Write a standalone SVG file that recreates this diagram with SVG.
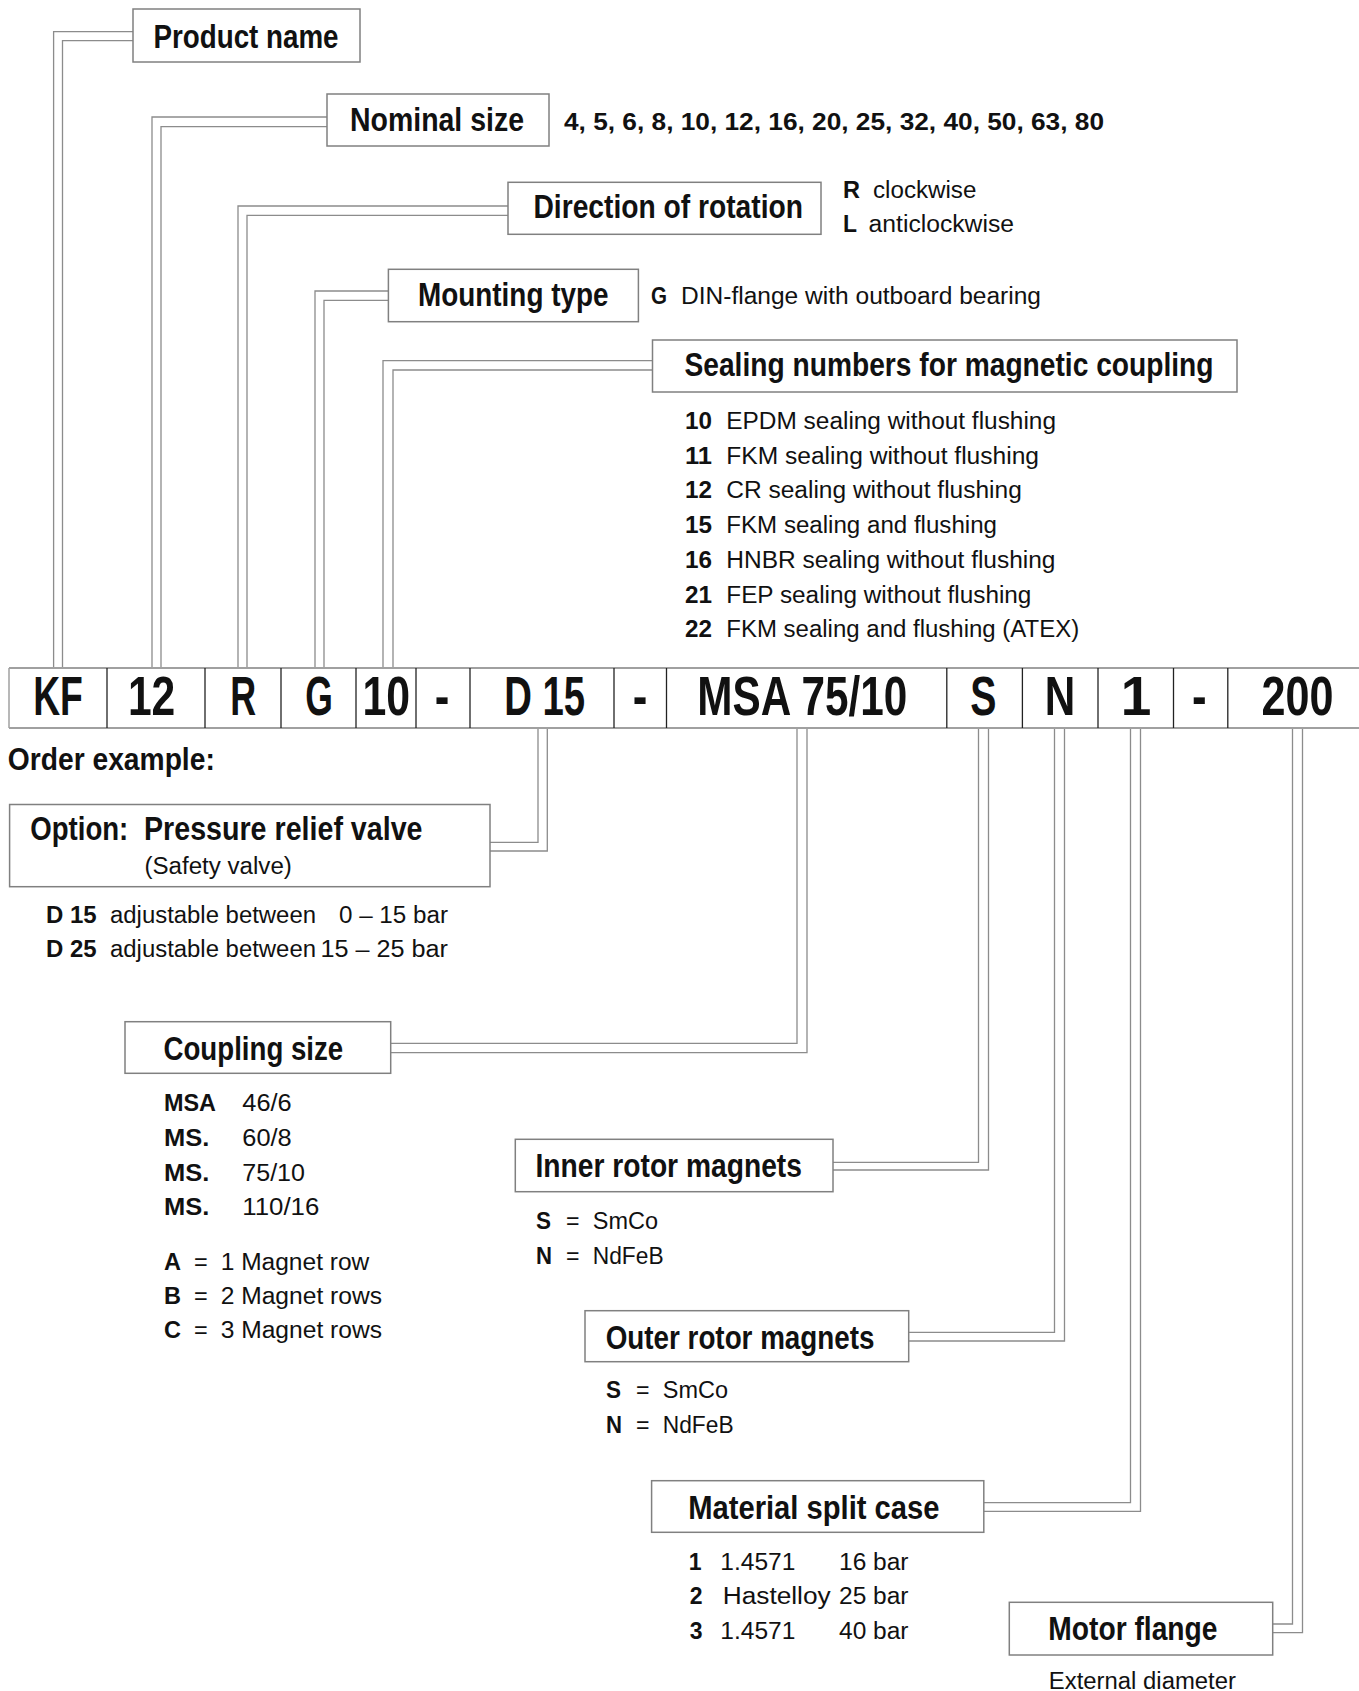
<svg xmlns="http://www.w3.org/2000/svg" width="1359" height="1691" viewBox="0 0 1359 1691">
<style>
text{font-family:"Liberation Sans",Arial,sans-serif;fill:#111}
.lbl{font-weight:bold;font-size:33px}
.code{font-weight:bold;font-size:55px;text-anchor:middle}
.b{font-weight:bold;font-size:23px}
.r{font-size:23px}
.box{fill:#fff;stroke:#808080;stroke-width:1.5}
.con{fill:none;stroke:#8c8c8c;stroke-width:1.3}
.hl{stroke:#a0a0a0;stroke-width:2}
.dv{stroke:#222;stroke-width:1.3}
</style>
<rect width="1359" height="1691" fill="#fff"/>
<g id="connectors">
<polyline class="con" points="133,31.7 53.6,31.7 53.6,668"/>
<polyline class="con" points="133,40.7 62.5,40.7 62.5,668"/>
<polyline class="con" points="327,117 152,117 152,668"/>
<polyline class="con" points="327,126.7 161,126.7 161,668"/>
<polyline class="con" points="508,206 238,206 238,668"/>
<polyline class="con" points="508,215.3 247,215.3 247,668"/>
<polyline class="con" points="388.4,291 315,291 315,668"/>
<polyline class="con" points="388.4,300.3 324,300.3 324,668"/>
<polyline class="con" points="652.5,360.7 383,360.7 383,668"/>
<polyline class="con" points="652.5,370 393,370 393,668"/>
<polyline class="con" points="490,842.3 538,842.3 538,728"/>
<polyline class="con" points="490,851 547.3,851 547.3,728"/>
<polyline class="con" points="390.7,1043.3 797,1043.3 797,728"/>
<polyline class="con" points="390.7,1052.7 807,1052.7 807,728"/>
<polyline class="con" points="833,1162.3 978.5,1162.3 978.5,728"/>
<polyline class="con" points="833,1170 988.5,1170 988.5,728"/>
<polyline class="con" points="908.7,1332.3 1054.5,1332.3 1054.5,728"/>
<polyline class="con" points="908.7,1341 1064.5,1341 1064.5,728"/>
<polyline class="con" points="983.8,1502.7 1130.5,1502.7 1130.5,728"/>
<polyline class="con" points="983.8,1511.3 1140.5,1511.3 1140.5,728"/>
<polyline class="con" points="1272.7,1624 1292.5,1624 1292.5,728"/>
<polyline class="con" points="1272.7,1632.7 1302.5,1632.7 1302.5,728"/>
</g>
<g id="order-code">
<line class="hl" x1="9" y1="668" x2="1359" y2="668"/>
<line class="hl" x1="9" y1="728" x2="1359" y2="728"/>
<line class="hl" x1="9" y1="668" x2="9" y2="728" style="stroke-width:1.5"/>
<line class="dv" x1="107" y1="668" x2="107" y2="728"/>
<line class="dv" x1="205" y1="668" x2="205" y2="728"/>
<line class="dv" x1="281" y1="668" x2="281" y2="728"/>
<line class="dv" x1="356" y1="668" x2="356" y2="728"/>
<line class="dv" x1="416" y1="668" x2="416" y2="728"/>
<line class="dv" x1="470" y1="668" x2="470" y2="728"/>
<line class="dv" x1="614" y1="668" x2="614" y2="728"/>
<line class="dv" x1="666.5" y1="668" x2="666.5" y2="728"/>
<line class="dv" x1="946.8" y1="668" x2="946.8" y2="728"/>
<line class="dv" x1="1022.4" y1="668" x2="1022.4" y2="728"/>
<line class="dv" x1="1098" y1="668" x2="1098" y2="728"/>
<line class="dv" x1="1173.5" y1="668" x2="1173.5" y2="728"/>
<line class="dv" x1="1227.8" y1="668" x2="1227.8" y2="728"/>
<text class="code" x="58" y="715" textLength="49.7" lengthAdjust="spacingAndGlyphs">KF</text>
<text class="code" x="151.6" y="715" textLength="47.4" lengthAdjust="spacingAndGlyphs">12</text>
<text class="code" x="243.3" y="715" textLength="25.9" lengthAdjust="spacingAndGlyphs">R</text>
<text class="code" x="319" y="715" textLength="27.6" lengthAdjust="spacingAndGlyphs">G</text>
<text class="code" x="386.3" y="715" textLength="47.6" lengthAdjust="spacingAndGlyphs">10</text>
<text class="code" x="442" y="715" textLength="14.6" lengthAdjust="spacingAndGlyphs">-</text>
<text class="code" x="544.7" y="715" textLength="80.9" lengthAdjust="spacingAndGlyphs">D 15</text>
<text class="code" x="640" y="715" textLength="14.6" lengthAdjust="spacingAndGlyphs">-</text>
<text class="code" x="802.3" y="715" textLength="209.9" lengthAdjust="spacingAndGlyphs">MSA 75/10</text>
<text class="code" x="983.4" y="715" textLength="26.2" lengthAdjust="spacingAndGlyphs">S</text>
<text class="code" x="1059.9" y="715" textLength="30.5" lengthAdjust="spacingAndGlyphs">N</text>
<text class="code" x="1136" y="715">1</text>
<text class="code" x="1199.3" y="715" textLength="14.6" lengthAdjust="spacingAndGlyphs">-</text>
<text class="code" x="1297.5" y="715" textLength="72" lengthAdjust="spacingAndGlyphs">200</text>
<text class="lbl" x="7.8" y="770" style="font-size:31px" textLength="207" lengthAdjust="spacingAndGlyphs">Order example:</text>
</g>
<g id="product-name">
<rect class="box" x="133" y="9" width="227" height="53"/>
<text class="lbl" x="153.5" y="47.5" textLength="185" lengthAdjust="spacingAndGlyphs">Product name</text>
</g>
<g id="nominal-size">
<rect class="box" x="327" y="94" width="222" height="52"/>
<text class="lbl" x="350" y="130.5" textLength="174" lengthAdjust="spacingAndGlyphs">Nominal size</text>
<text class="b" x="564" y="130" style="font-size:24px" textLength="540" lengthAdjust="spacingAndGlyphs">4, 5, 6, 8, 10, 12, 16, 20, 25, 32, 40, 50, 63, 80</text>
</g>
<g id="direction-of-rotation">
<rect class="box" x="508" y="182.3" width="313" height="52"/>
<text class="lbl" transform="translate(533.5,218) scale(0.855,1)" x="0" y="0" textLength="315.2" lengthAdjust="spacingAndGlyphs">Direction of rotation</text>
<text class="b" x="843" y="198" textLength="17" lengthAdjust="spacingAndGlyphs">R</text>
<text class="r" x="873" y="198" textLength="103.4" lengthAdjust="spacingAndGlyphs">clockwise</text>
<text class="b" x="843" y="232" textLength="14" lengthAdjust="spacingAndGlyphs">L</text>
<text class="r" x="868.6" y="232" textLength="145.4" lengthAdjust="spacingAndGlyphs">anticlockwise</text>
</g>
<g id="mounting-type">
<rect class="box" x="388.4" y="269.3" width="250" height="52.4"/>
<text class="lbl" x="418" y="306.3" textLength="190.5" lengthAdjust="spacingAndGlyphs">Mounting type</text>
<text class="b" x="651" y="304" textLength="16" lengthAdjust="spacingAndGlyphs">G</text>
<text class="r" x="681" y="304" textLength="360" lengthAdjust="spacingAndGlyphs">DIN-flange with outboard bearing</text>
</g>
<g id="sealing-numbers">
<rect class="box" x="652.5" y="340" width="584.5" height="52"/>
<text class="lbl" x="684.5" y="376" textLength="529" lengthAdjust="spacingAndGlyphs">Sealing numbers for magnetic coupling</text>
<text class="b" x="685" y="429.3" textLength="27" lengthAdjust="spacingAndGlyphs">10</text>
<text class="r" x="726.3" y="429.3" textLength="329.7" lengthAdjust="spacingAndGlyphs">EPDM sealing without flushing</text>
<text class="b" x="685" y="464" textLength="27" lengthAdjust="spacingAndGlyphs">11</text>
<text class="r" x="726.3" y="464" textLength="312.7" lengthAdjust="spacingAndGlyphs">FKM sealing without flushing</text>
<text class="b" x="685" y="498.3" textLength="27" lengthAdjust="spacingAndGlyphs">12</text>
<text class="r" x="726.3" y="498.3" textLength="295.5" lengthAdjust="spacingAndGlyphs">CR sealing without flushing</text>
<text class="b" x="685" y="533.3" textLength="27" lengthAdjust="spacingAndGlyphs">15</text>
<text class="r" x="726.3" y="533.3" textLength="270.7" lengthAdjust="spacingAndGlyphs">FKM sealing and flushing</text>
<text class="b" x="685" y="568.3" textLength="27" lengthAdjust="spacingAndGlyphs">16</text>
<text class="r" x="726.3" y="568.3" textLength="329.2" lengthAdjust="spacingAndGlyphs">HNBR sealing without flushing</text>
<text class="b" x="685" y="602.7" textLength="27" lengthAdjust="spacingAndGlyphs">21</text>
<text class="r" x="726.3" y="602.7" textLength="305.1" lengthAdjust="spacingAndGlyphs">FEP sealing without flushing</text>
<text class="b" x="685" y="637.3" textLength="27" lengthAdjust="spacingAndGlyphs">22</text>
<text class="r" x="726.3" y="637.3" textLength="352.9" lengthAdjust="spacingAndGlyphs">FKM sealing and flushing (ATEX)</text>
</g>
<g id="pressure-relief-valve">
<rect class="box" x="9.6" y="804.5" width="480.4" height="82.2"/>
<text class="lbl" x="30.3" y="840" textLength="98" lengthAdjust="spacingAndGlyphs">Option:</text>
<text class="lbl" x="144" y="840" textLength="278.5" lengthAdjust="spacingAndGlyphs">Pressure relief valve</text>
<text class="r" x="144.4" y="874" textLength="147.5" lengthAdjust="spacingAndGlyphs">(Safety valve)</text>
<text class="b" x="46" y="923.3" textLength="50.7" lengthAdjust="spacingAndGlyphs">D 15</text>
<text class="r" x="110" y="923.3" textLength="206" lengthAdjust="spacingAndGlyphs">adjustable between</text>
<text class="r" x="339" y="923.3" textLength="109" lengthAdjust="spacingAndGlyphs">0 – 15 bar</text>
<text class="b" x="46" y="956.7" textLength="50.7" lengthAdjust="spacingAndGlyphs">D 25</text>
<text class="r" x="110" y="956.7" textLength="206" lengthAdjust="spacingAndGlyphs">adjustable between</text>
<text class="r" x="320.5" y="956.7" textLength="127.5" lengthAdjust="spacingAndGlyphs">15 – 25 bar</text>
</g>
<g id="coupling-size">
<rect class="box" x="125" y="1021.7" width="265.7" height="51.6"/>
<text class="lbl" x="163.5" y="1059.5" textLength="179.7" lengthAdjust="spacingAndGlyphs">Coupling size</text>
<text class="b" x="164" y="1111" textLength="52" lengthAdjust="spacingAndGlyphs">MSA</text>
<text class="r" x="242.3" y="1111" textLength="49.4" lengthAdjust="spacingAndGlyphs">46/6</text>
<text class="b" x="164" y="1146" textLength="45.3" lengthAdjust="spacingAndGlyphs">MS.</text>
<text class="r" x="242.3" y="1146" textLength="49.4" lengthAdjust="spacingAndGlyphs">60/8</text>
<text class="b" x="164" y="1181" textLength="45.3" lengthAdjust="spacingAndGlyphs">MS.</text>
<text class="r" x="242.3" y="1181" textLength="62.7" lengthAdjust="spacingAndGlyphs">75/10</text>
<text class="b" x="164" y="1215" textLength="45.3" lengthAdjust="spacingAndGlyphs">MS.</text>
<text class="r" x="242.3" y="1215" textLength="77" lengthAdjust="spacingAndGlyphs">110/16</text>
<text class="b" x="164" y="1270" textLength="17" lengthAdjust="spacingAndGlyphs">A</text>
<text class="r" x="194" y="1270" textLength="13.7" lengthAdjust="spacingAndGlyphs">=</text>
<text class="r" x="220.7" y="1270" textLength="148.6" lengthAdjust="spacingAndGlyphs">1 Magnet row</text>
<text class="b" x="164" y="1304.3" textLength="17" lengthAdjust="spacingAndGlyphs">B</text>
<text class="r" x="194" y="1304.3" textLength="13.7" lengthAdjust="spacingAndGlyphs">=</text>
<text class="r" x="220.7" y="1304.3" textLength="161.3" lengthAdjust="spacingAndGlyphs">2 Magnet rows</text>
<text class="b" x="164" y="1338.3" textLength="17" lengthAdjust="spacingAndGlyphs">C</text>
<text class="r" x="194" y="1338.3" textLength="13.7" lengthAdjust="spacingAndGlyphs">=</text>
<text class="r" x="220.7" y="1338.3" textLength="161.3" lengthAdjust="spacingAndGlyphs">3 Magnet rows</text>
</g>
<g id="inner-rotor-magnets">
<rect class="box" x="515.3" y="1139.3" width="317.7" height="52.4"/>
<text class="lbl" x="535.5" y="1177" textLength="266.4" lengthAdjust="spacingAndGlyphs">Inner rotor magnets</text>
<text class="b" x="536" y="1229.3" textLength="15" lengthAdjust="spacingAndGlyphs">S</text>
<text class="r" x="566" y="1229.3" textLength="13.5" lengthAdjust="spacingAndGlyphs">=</text>
<text class="r" x="592.8" y="1229.3" textLength="65.2" lengthAdjust="spacingAndGlyphs">SmCo</text>
<text class="b" x="536" y="1264" textLength="16" lengthAdjust="spacingAndGlyphs">N</text>
<text class="r" x="566" y="1264" textLength="13.5" lengthAdjust="spacingAndGlyphs">=</text>
<text class="r" x="592.8" y="1264" textLength="70.8" lengthAdjust="spacingAndGlyphs">NdFeB</text>
</g>
<g id="outer-rotor-magnets">
<rect class="box" x="585" y="1310.7" width="323.7" height="51"/>
<text class="lbl" x="605.7" y="1348.5" textLength="268.8" lengthAdjust="spacingAndGlyphs">Outer rotor magnets</text>
<text class="b" x="606" y="1397.7" textLength="15" lengthAdjust="spacingAndGlyphs">S</text>
<text class="r" x="636" y="1397.7" textLength="13.5" lengthAdjust="spacingAndGlyphs">=</text>
<text class="r" x="662.8" y="1397.7" textLength="65.2" lengthAdjust="spacingAndGlyphs">SmCo</text>
<text class="b" x="606" y="1433" textLength="16" lengthAdjust="spacingAndGlyphs">N</text>
<text class="r" x="636" y="1433" textLength="13.5" lengthAdjust="spacingAndGlyphs">=</text>
<text class="r" x="662.8" y="1433" textLength="70.8" lengthAdjust="spacingAndGlyphs">NdFeB</text>
</g>
<g id="material-split-case">
<rect class="box" x="651.6" y="1480.7" width="332.2" height="51.6"/>
<text class="lbl" x="688.2" y="1518.5" textLength="251.3" lengthAdjust="spacingAndGlyphs">Material split case</text>
<text class="b" x="688.7" y="1570">1</text>
<text class="r" x="720.3" y="1570" textLength="75.1" lengthAdjust="spacingAndGlyphs">1.4571</text>
<text class="r" x="839" y="1570" textLength="69.5" lengthAdjust="spacingAndGlyphs">16 bar</text>
<text class="b" x="689.7" y="1604.3">2</text>
<text class="r" x="722.7" y="1604.3" textLength="108" lengthAdjust="spacingAndGlyphs">Hastelloy</text>
<text class="r" x="839" y="1604.3" textLength="69.5" lengthAdjust="spacingAndGlyphs">25 bar</text>
<text class="b" x="689.7" y="1639.3">3</text>
<text class="r" x="720.3" y="1639.3" textLength="75.1" lengthAdjust="spacingAndGlyphs">1.4571</text>
<text class="r" x="839" y="1639.3" textLength="69.5" lengthAdjust="spacingAndGlyphs">40 bar</text>
</g>
<g id="motor-flange">
<rect class="box" x="1009.3" y="1602.3" width="263.4" height="52.7"/>
<text class="lbl" x="1048.3" y="1640" textLength="169.2" lengthAdjust="spacingAndGlyphs">Motor flange</text>
<text class="r" x="1048.8" y="1689" textLength="187.2" lengthAdjust="spacingAndGlyphs">External diameter</text>
</g>
</svg>
